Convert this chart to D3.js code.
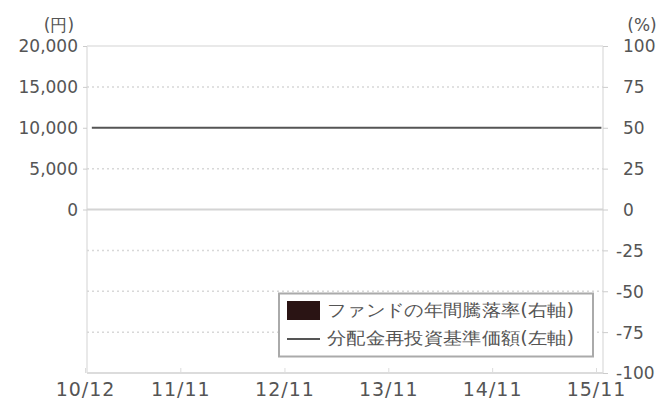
<!DOCTYPE html>
<html><head><meta charset="utf-8">
<script src="https://cdn.jsdelivr.net/npm/d3@7"></script>
<style>
html,body{margin:0;padding:0;background:#fff;}
svg{display:block;}
text{font-family:"DejaVu Sans",sans-serif;fill:#555;}
</style></head><body>
<svg id="c" width="665" height="401"></svg>
<script>
// ---- data ----
const xTickLabels = ["10/12","11/11","12/11","13/11","14/11","15/11"];
const xTickDates = ["2010-12-01","2011-11-01","2012-11-01","2013-11-01","2014-11-01","2015-11-01"];
const navDates = ["2010-12-25","2011-11-30","2012-11-30","2013-11-30","2014-11-30","2015-11-20"];
const navValues = [10000,10000,10000,10000,10000,10000];
const returnYears = [];      // no bars visible
const returnValues = [];
const leftTicks = [20000,15000,10000,5000,0];
const rightTicks = [100,75,50,25,0,-25,-50,-75,-100];
const legendLabels = ["ファンドの年間騰落率(右軸)","分配金再投資基準価額(左軸)"];

const svg = d3.select("#c");
const L = 87, R = 603, T = 46, B = 373;
const parse = d3.timeParse("%Y-%m-%d");
const x = d3.scaleTime().domain([parse("2010-12-01"), parse("2015-11-01")]).range([85, 596]);
const yL = d3.scaleLinear().domain([-20000, 20000]).range([B, T]);
const yR = d3.scaleLinear().domain([-100, 100]).range([B, T]);

// frame
svg.append("line").attr("x1",L).attr("x2",R).attr("y1",T).attr("y2",T).attr("stroke","#e2e2e2").attr("stroke-width",1.5);
svg.append("line").attr("x1",L).attr("x2",L).attr("y1",T).attr("y2",B).attr("stroke","#e2e2e2").attr("stroke-width",1.5);
svg.append("line").attr("x1",R).attr("x2",R).attr("y1",T).attr("y2",B).attr("stroke","#e2e2e2").attr("stroke-width",1.5);

// dotted grid
const dotted = [75,25,-25,-50,-75];
svg.append("g").selectAll("line").data(dotted).join("line")
  .attr("x1",L).attr("x2",R).attr("y1",d=>yR(d)).attr("y2",d=>yR(d))
  .attr("stroke","#d8d8d8").attr("stroke-width",1.5).attr("stroke-dasharray","2,3");
// zero line
svg.append("line").attr("x1",L).attr("x2",R).attr("y1",yR(0)).attr("y2",yR(0)).attr("stroke","#d4d4d4").attr("stroke-width",2);

// left axis
const gl = svg.append("g").attr("transform",`translate(${L},0)`)
  .call(d3.axisLeft(yL).tickValues(leftTicks).tickSize(4).tickPadding(5).tickFormat(d3.format(",")));
gl.select(".domain").remove();
gl.selectAll(".tick line").attr("stroke","#ccc");
gl.selectAll(".tick text").attr("font-size",17).attr("fill","#5a5a5a").attr("dy","0.35em").attr("y",0).attr("x",-9);

// right axis
const gr = svg.append("g").attr("transform",`translate(${R},0)`)
  .call(d3.axisRight(yR).tickValues(rightTicks).tickSize(5).tickPadding(15).tickFormat(d=>d<0?"-"+Math.abs(d):d));
gr.select(".domain").remove();
gr.selectAll(".tick line").attr("stroke","#ccc");
gr.selectAll(".tick text").attr("font-size",17).attr("fill","#5a5a5a").attr("dy","0.35em").attr("y",0)
  .attr("x",d=>d<0?13:20);

// bottom axis
const gb = svg.append("g").attr("transform",`translate(0,${B})`)
  .call(d3.axisBottom(x).tickValues(xTickDates.map(parse)).tickSize(-5).tickPadding(6)
    .tickFormat((d,i)=>xTickLabels[i]));
gb.select(".domain").attr("stroke","#dcdcdc").attr("stroke-width",2).attr("d",`M${L},0H${R}`);
gb.selectAll(".tick line").attr("stroke","#ddd");
gb.selectAll(".tick text").attr("font-size",19).attr("fill","#5a5a5a").attr("letter-spacing","1px").attr("y",10).attr("dy","0.71em");

// unit labels
svg.append("text").attr("x",59).attr("y",26).attr("text-anchor","middle").attr("font-size",17).attr("dominant-baseline","middle").text("(円)");
svg.append("text").attr("x",642).attr("y",26).attr("text-anchor","middle").attr("font-size",17).attr("dominant-baseline","middle").text("(%)");

// bars (none)
svg.append("g").selectAll("rect").data(returnValues).join("rect")
  .attr("x",(d,i)=>x(parse(returnYears[i]))-15).attr("width",30)
  .attr("y",d=>yR(Math.max(0,d))).attr("height",d=>Math.abs(yR(d)-yR(0))).attr("fill","#2a1414");

// NAV line
const line = d3.line().x((d,i)=>x(parse(navDates[i]))).y(d=>yL(d));
svg.append("path").attr("d",line(navValues)).attr("fill","none").attr("stroke","#555").attr("stroke-width",2);

// legend
const lg = svg.append("g");
lg.append("rect").attr("x",279).attr("y",293.5).attr("width",314).attr("height",63).attr("fill","#fff").attr("stroke","#aaa").attr("stroke-width",2);
lg.append("rect").attr("x",287).attr("y",301).attr("width",33).attr("height",19).attr("fill","#2a1414");
lg.append("line").attr("x1",287).attr("x2",320).attr("y1",339).attr("y2",339).attr("stroke","#555").attr("stroke-width",2);
lg.selectAll("text").data(legendLabels).join("text")
  .attr("x",327).attr("y",(d,i)=>311+i*28).attr("dominant-baseline","middle")
  .attr("font-family","'Noto Sans CJK JP',sans-serif").attr("font-size",17).attr("fill","#555")
  .attr("textLength",247).attr("lengthAdjust","spacingAndGlyphs").text(d=>d);
</script>
</body></html>
